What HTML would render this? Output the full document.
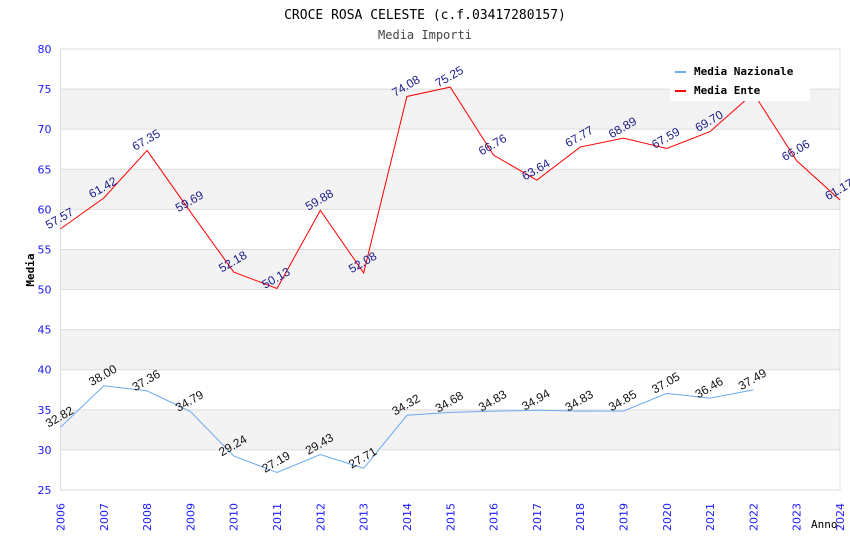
<!DOCTYPE html>
<html><head><meta charset="utf-8"><style>
body{margin:0;background:#fff}
svg text{font-family:"DejaVu Sans",sans-serif}
.mono{font-family:"DejaVu Sans Mono","Liberation Mono",monospace}
</style></head><body>
<svg id="c" width="850" height="550" xmlns="http://www.w3.org/2000/svg">
<text class="mono" x="425" y="19" text-anchor="middle" font-size="13" fill="#000">CROCE ROSA CELESTE (c.f.03417280157)</text>
<text class="mono" x="425" y="39" text-anchor="middle" font-size="12" fill="#444">Media Importi</text>
<g id="bands"></g><g id="grid"></g><g id="axes"></g><g id="series"></g><g id="labels"></g>
<text class="mono" x="34" y="270" transform="rotate(-90 34 270)" text-anchor="middle" font-size="11" font-weight="bold">Media</text>
<text class="mono" x="811" y="528" font-size="11" fill="#000">Anno</text>
<g>
<rect x="670" y="56" width="140" height="45" fill="#fff"/>
<rect x="675" y="71" width="11" height="2" fill="#6aaaf0"/>
<text class="mono" x="694" y="75" font-size="11" font-weight="bold">Media Nazionale</text>
<rect x="675" y="90" width="11" height="2" fill="#ff0000"/>
<text class="mono" x="694" y="94" font-size="11" font-weight="bold">Media Ente</text>
</g>
</svg>
<script>
const years=[2006,2007,2008,2009,2010,2011,2012,2013,2014,2015,2016,2017,2018,2019,2020,2021,2022,2023,2024];
const ente=[57.57,61.42,67.35,59.69,52.18,50.13,59.88,52.08,74.08,75.25,66.76,63.64,67.77,68.89,67.59,69.70,74.5,66.06,61.17];
const nazionale=[32.82,38.00,37.36,34.79,29.24,27.19,29.43,27.71,34.32,34.68,34.83,34.94,34.83,34.85,37.05,36.46,37.49];
const yTicks=[25,30,35,40,45,50,55,60,65,70,75,80];
const L=60.5,R=840,T=49,B=490,ymin=25,ymax=80;
const xs=i=>L+(R-L)*i/(years.length-1);
const ys=v=>B-(v-ymin)/(ymax-ymin)*(B-T);
const NS="http://www.w3.org/2000/svg";
function mk(p,t,a){const e=document.createElementNS(NS,t);for(const k in a)e.setAttribute(k,a[k]);document.getElementById(p).appendChild(e);return e;}
for(let i=0;i<yTicks.length-1;i++){
 if(i%2==1){const r=mk('bands','rect',{x:L,y:ys(yTicks[i+1]),width:R-L,height:ys(yTicks[i])-ys(yTicks[i+1]),fill:'#f3f3f3'});
 
 }
}
yTicks.forEach(v=>{
 const l=mk('grid','line',{x1:L,x2:R,y1:ys(v),y2:ys(v),stroke:'#ddd','stroke-width':1});
 
 
 const t=mk('axes','text',{x:L-9,y:ys(v)+4,'text-anchor':'end','font-size':11,fill:'#1a1aff'});
 t.textContent=v;
 
 
});
const ax=mk('axes','path',{d:`M${L},${T}V${B}H${R}V${T}`,fill:'none',stroke:'#ddd'});


years.forEach((y,i)=>{
 const t=mk('axes','text',{x:0,y:0,transform:`translate(${xs(i)+4},${B+41}) rotate(-90)`,'font-size':11,fill:'#1a1aff'});
 t.textContent=y;
 
 
});
function series(arr,col,lc,name,skip){
 const p=mk('series','polyline',{points:arr.map((v,i)=>xs(i)+','+ys(v)).join(' '),fill:'none',stroke:col,'stroke-width':1});
 
 
 arr.forEach((v,i)=>{
  if(skip&&skip(i))return;
  const t=mk('labels','text',{x:0,y:0,transform:`translate(${xs(i)+1},${ys(v)-7}) rotate(-30)`,'text-anchor':'middle','font-size':12,fill:lc,style:'font-family:"Liberation Sans",sans-serif'});
  t.textContent=v.toFixed(2);
  
  
 });
}
series(nazionale,'#6aaaf0','#111','nazionale');
series(ente,'#ff0000','#1a1a8c','ente',i=>i==16);
</script>
</body></html>
